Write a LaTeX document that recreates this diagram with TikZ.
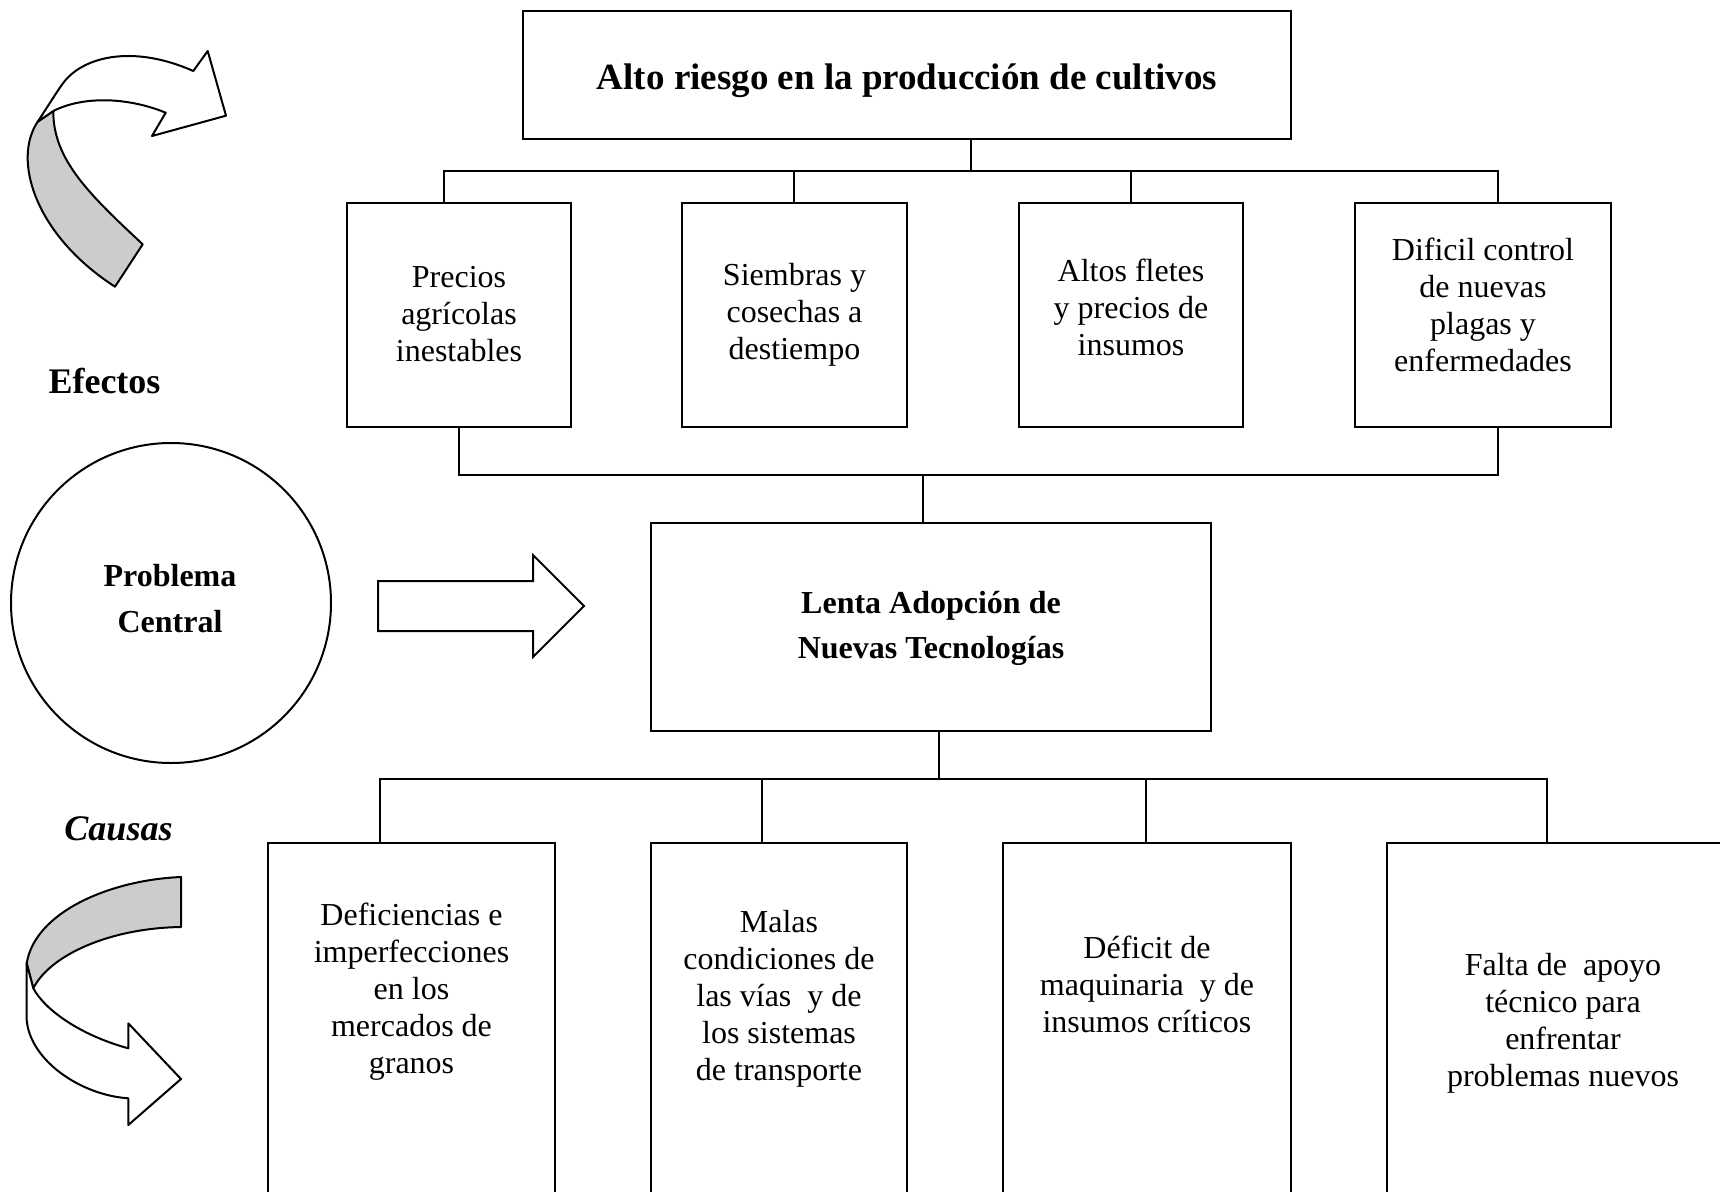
\documentclass[tikz,border=0pt]{standalone}
\usepackage{fontspec}
\setmainfont{Liberation Serif}
\usetikzlibrary{calc}
\begin{document}
\begin{tikzpicture}[x=1pt,y=-1pt,
  box/.style={draw, line width=2pt, outer sep=0pt, inner sep=0pt},
  txt/.style={align=center, inner sep=0pt, font=\fontsize{32}{37}\selectfont},
  btxt/.style={align=center, inner sep=0pt, font=\fontsize{32}{45}\selectfont\bfseries},
  conn/.style={line width=2pt},
  shp/.style={draw, line width=2pt, line join=round}]
\useasboundingbox (0,0) rectangle (1720,1191);

% ---- top effect
\node[box, minimum width=768pt, minimum height=128pt] (top) at (907,75) {};
\node[inner sep=0pt, font=\fontsize{37}{44}\selectfont\bfseries] (topt) at (907,81) {Alto riesgo en la producción de cultivos};

% ---- effect boxes
\node[box, minimum width=224pt, minimum height=224pt] (e1) at (459,315) {};
\node[box, minimum width=225pt, minimum height=224pt] (e2) at (794.5,315) {};
\node[box, minimum width=224pt, minimum height=224pt] (e3) at (1131,315) {};
\node[box, minimum width=256pt, minimum height=224pt] (e4) at (1483,315) {};
\node[txt] (e1t) at (459,314) {Precios\\agrícolas\\inestables};
\node[txt] (e2t) at (794.5,315) {Siembras y\\cosechas a\\destiempo};
\node[txt] (e3t) at (1131,307) {Altos fletes\\y precios de\\insumos};
\node[txt] (e4t) at (1483,305) {Dificil control\\de nuevas\\plagas y\\enfermedades};

% ---- central problem
\node[box, minimum width=560pt, minimum height=208pt] (cen) at (931,627) {};
\node[btxt] (cent) at (931,628.5) {Lenta Adopción de\\Nuevas Tecnologías};

% ---- cause boxes (bottoms run off the page)
\node[box, minimum width=287pt, minimum height=400pt] (c1) at (411.5,1043) {};
\node[box, minimum width=256pt, minimum height=400pt] (c2) at (779,1043) {};
\node[box, minimum width=288pt, minimum height=400pt] (c3) at (1147,1043) {};
\node[box, minimum width=352pt, minimum height=400pt] (c4) at (1563,1043) {};
\node[txt] (c1t) at (411.5,992) {Deficiencias e\\imperfecciones\\en los\\mercados de\\granos};
\node[txt] (c2t) at (779,999) {Malas\\condiciones de\\las vías\ \ y de\\los sistemas\\de transporte};
\node[txt] (c3t) at (1147,984) {Déficit de\\maquinaria\ \ y de\\insumos críticos};
\node[txt] (c4t) at (1563,1023) {Falta de\ \ apoyo\\técnico para\\enfrentar\\problemas nuevos};

% ---- left side labels
\node[inner sep=0pt, font=\fontsize{36}{40}\selectfont\bfseries] (efec) at (104.5,381) {Efectos};
\node[inner sep=0pt, font=\fontsize{36}{40}\selectfont\bfseries\itshape] (caus) at (118.5,829) {Causas};
\node[draw, circle, line width=2pt, minimum size=320pt, inner sep=0pt] (circ) at (171,603) {};
\node[btxt, font=\fontsize{32}{46}\selectfont\bfseries] (circt) at (170,599) {Problema\\Central};

% ---- connectors
\coordinate (sT) at (971,171);
\coordinate (s1) at (444,171);
\coordinate (s2) at (794,171);
\coordinate (s3) at (1131,171);
\coordinate (s4) at (1498,171);
\draw[conn] (top.south -| sT) -- (sT);
\draw[conn] (e1.north -| s1) -- (s1) -- (s4) -- (e4.north -| s4);
\draw[conn] (s2) -- (e2.north -| s2);
\draw[conn] (s3) -- (e3.north -| s3);

\coordinate (l1) at (459,475);
\coordinate (l4) at (1498,475);
\coordinate (lc) at (923,475);
\draw[conn] (e1.south -| l1) -- (l1) -- (l4) -- (e4.south -| l4);
\draw[conn] (lc) -- (cen.north -| lc);

\coordinate (bc) at (939,779);
\coordinate (b1) at (380,779);
\coordinate (b2) at (762,779);
\coordinate (b3) at (1146,779);
\coordinate (b4) at (1547,779);
\draw[conn] (cen.south -| bc) -- (bc);
\draw[conn] (c1.north -| b1) -- (b1) -- (b4) -- (c4.north -| b4);
\draw[conn] (b2) -- (c2.north -| b2);
\draw[conn] (b3) -- (c3.north -| b3);

% ---- block arrow toward central problem
\draw[shp, line join=miter, fill=white] (378,581) -- (533,581) -- (533,555) -- (584,606) -- (533,657) -- (533,631) -- (378,631) -- cycle;

% ---- top-left curved arrow
\draw[shp, fill=black!20] (37.7,121.7) .. controls (12,160) and (35,235) .. (115,286.7)
  -- (142.7,244.3) .. controls (90,195) and (53,160) .. (53.3,111) -- cycle;
\draw[shp, fill=white] (37.7,121.7) .. controls (50,103) and (58,90) .. (62,84.7)
  .. controls (80,58) and (130,43) .. (193.3,71) -- (207.7,51) -- (226,115.7) -- (152,136) -- (165.7,112.7)
  .. controls (130,98) and (85,95) .. (53.3,111) -- cycle;

% ---- bottom-left curved arrow
\draw[shp, fill=black!20] (181,877) .. controls (110,880) and (35,912) .. (26.7,963.3)
  -- (33.3,988.3) .. controls (50,955) and (110,928) .. (181,927) -- cycle;
\draw[shp, fill=white] (26.7,963.3) -- (26.7,1020) .. controls (30,1060) and (80,1095) .. (128.3,1098.3)
  -- (128.3,1125) -- (181,1079) -- (128.3,1023.3) -- (128.3,1048.3)
  .. controls (80,1035) and (45,1010) .. (33.3,988.3) -- cycle;
\end{tikzpicture}
\end{document}
